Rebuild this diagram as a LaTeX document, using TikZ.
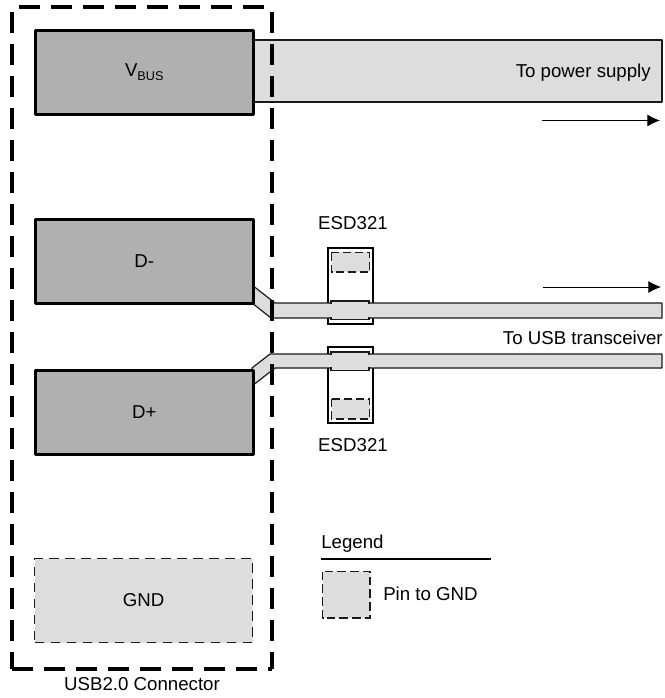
\documentclass[tikz,border=0pt]{standalone}
\usepackage{fontspec}
\setmainfont{Liberation Sans}
\usetikzlibrary{arrows.meta}
\definecolor{pindark}{HTML}{B0B0B0}
\definecolor{pinlight}{HTML}{DDDDDD}
\definecolor{inkline}{HTML}{1A1A1A}
\tikzset{
  x=0.75pt,y=-0.75pt,
  outerdash/.style={line width=2.3pt,draw=black,dash pattern=on 15.75pt off 8.25pt,line cap=butt},
  pinbox/.style={draw=black,fill=pindark,line width=1.9pt,line join=round,minimum width=163.5pt,minimum height=63pt,inner sep=0pt,anchor=north west},
  gndbox/.style={draw=inkline,fill=pinlight,line width=0.8pt,dash pattern=on 7pt off 5pt,minimum width=163.5pt,minimum height=63pt,inner sep=0pt,anchor=north west},
  swatch/.style={draw=inkline,fill=pinlight,line width=0.8pt,dash pattern=on 6.5pt off 3pt},
  bar/.style={draw=inkline,fill=pinlight,line width=0.9pt,line join=round},
  device/.style={draw=black,line width=0.9pt,fill=white},
  padground/.style={draw=inkline,fill=pinlight,line width=0.8pt,dash pattern=on 6pt off 3pt},
  padfill/.style={fill=pinlight,draw=none},
  padedge/.style={draw=inkline,line width=0.9pt},
  flow/.style={draw=black,line width=0.75pt,-{Latex[length=9.5pt,width=9pt]}},
  lbl/.style={font=\fontsize{14pt}{16pt}\selectfont,text=black,inner sep=0pt}
}
\begin{document}
\begin{tikzpicture}
\useasboundingbox (0,0) rectangle (664,698);
% power bar
\draw[bar] (252,40) -- (662,40) -- (662,102) -- (252,102) -- cycle;
% device bodies
\draw[device] (328,248) rectangle (373,324);
\draw[device] (328,347) rectangle (373,423);
\draw[padground] (331.5,252.5) rectangle (369.5,272);
\draw[padground] (331.5,399) rectangle (369.5,419);
% traces
\draw[bar] (252,285) -- (275,303) -- (662,303) -- (662,318) -- (271,318) -- (252,303) -- cycle;
\draw[bar] (252,368) -- (270,354) -- (662,354) -- (662,368) -- (275,368) -- (252,386) -- cycle;
\fill[padfill] (331,301) rectangle (369,319.5);
\fill[padfill] (331,352) rectangle (369,370.5);
\draw[padedge] (331,304) -- (331,301) -- (369,301) -- (369,304);
\draw[padedge] (331,317) -- (331,319.5) -- (369,319.5) -- (369,317);
\draw[padedge] (331,355) -- (331,352) -- (369,352) -- (369,355);
\draw[padedge] (331,367) -- (331,370.5) -- (369,370.5) -- (369,367);
% connector outline
\draw[outerdash] (12,12) -- (12,669);
\draw[outerdash] (272,12) -- (272,669);
\draw[outerdash] (19,7) -- (272,7);
\draw[outerdash] (12,669) -- (272,669);
% pins
\node[pinbox] (vbus) at (34,29) {};
\node[pinbox] (dm) at (34,218) {};
\node[pinbox] (dp) at (34,369) {};
\node[gndbox] (gnd) at (34,558) {};
\node[lbl] at (vbus.center) {V\raisebox{-0.4ex}{\fontsize{9.5pt}{11pt}\selectfont BUS}};
\node[lbl] at (dm.center) {D-};
\node[lbl] at (dp.center) {D+};
\node[lbl] at (gnd.center) {GND};
% labels
\node[lbl,anchor=base east] (ps) at (651,78) {To power supply};
\node[lbl,anchor=base] (e1) at (353,229) {ESD321};
\node[lbl,anchor=base] (e2) at (353,451) {ESD321};
\node[lbl,anchor=base east] (ut) at (663,344) {To USB transceiver};
\node[lbl,anchor=base] (uc) at (142,690) {USB2.0 Connector};
% arrows
\coordinate (a1) at (542,120.5); \coordinate (a2) at (660,120.5);
\coordinate (b1) at (543,287); \coordinate (b2) at (661,287);
\draw[flow] (a1) -- (a2);
\draw[flow] (b1) -- (b2);
% legend
\node[lbl,anchor=base west] (lg) at (321,548) {Legend};
\coordinate (l1) at (321,559); \coordinate (l2) at (491,559);
\draw[line width=1.9pt,black] (l1) -- (l2);
\draw[swatch] (322.5,571.5) rectangle (370,618);
\node[lbl,anchor=base west] (pg) at (383,600) {Pin to GND};
\end{tikzpicture}
\end{document}
